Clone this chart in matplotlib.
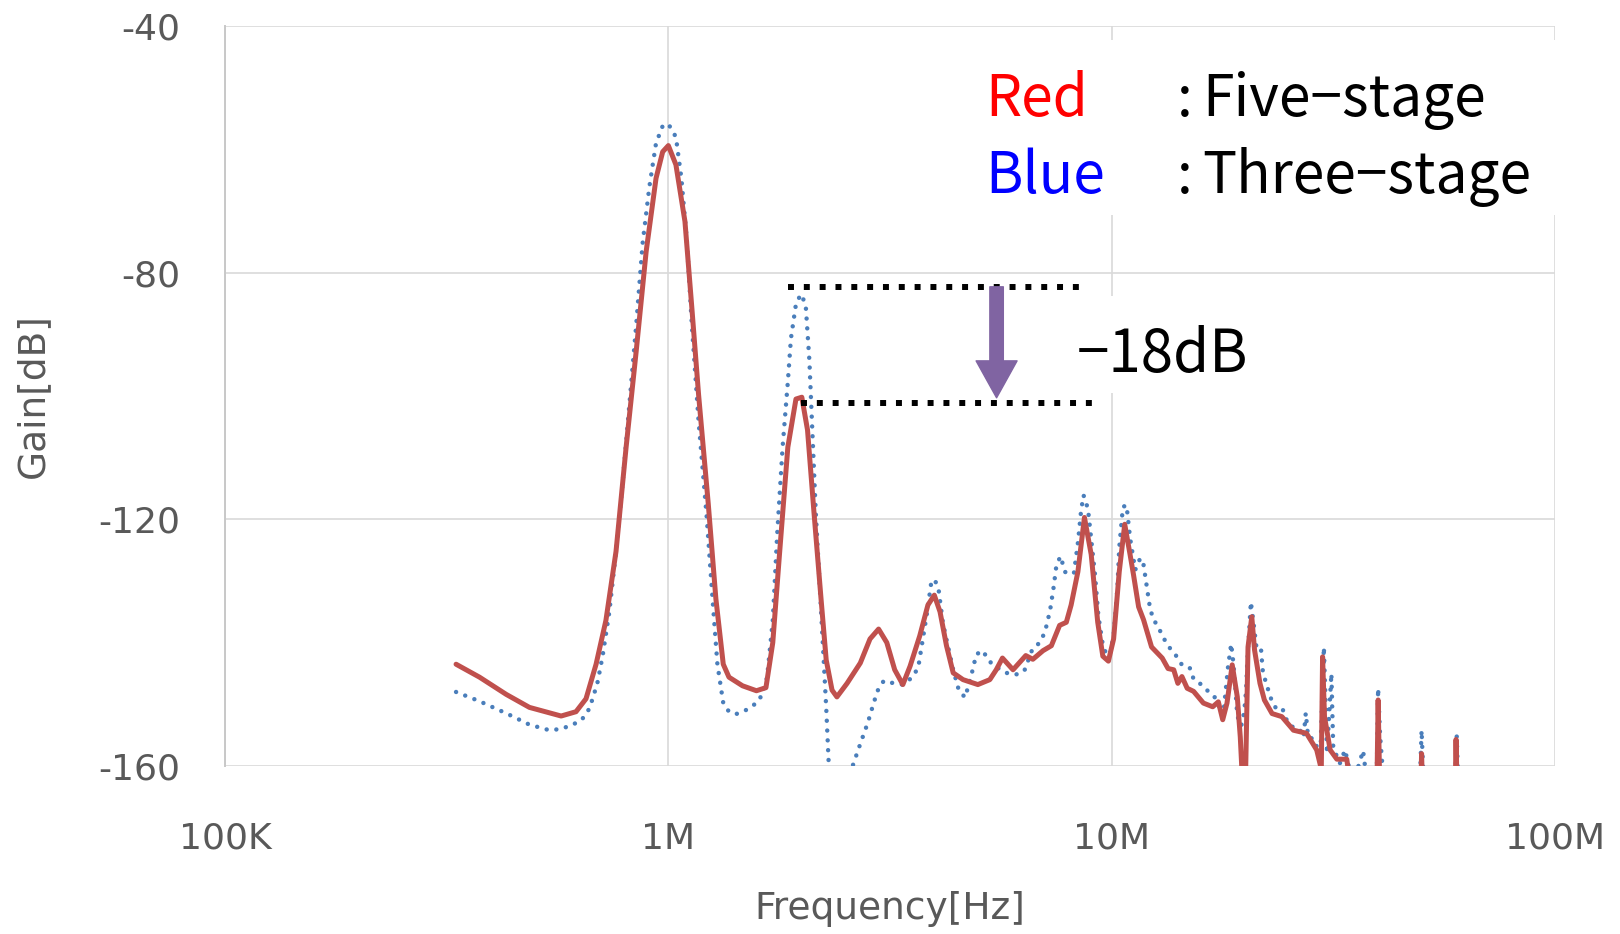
import matplotlib
matplotlib.use("Agg")
import matplotlib.pyplot as plt
from matplotlib.patches import Rectangle

plt.rcParams["axes.unicode_minus"] = False

# measured gain, five-stage filter (red)
freq_red = [
    332e3, 375e3, 431e3, 486e3, 573e3, 619e3, 652e3, 687e3, 723e3, 762e3,
    803e3, 846e3, 891e3, 938e3, 971e3, 1.0e6, 1.04e6, 1.09e6, 1.13e6, 1.17e6,
    1.23e6, 1.28e6, 1.33e6, 1.37e6, 1.47e6, 1.58e6, 1.66e6, 1.72e6, 1.78e6, 1.86e6,
    1.94e6, 2.0e6, 2.06e6, 2.13e6, 2.21e6, 2.27e6, 2.34e6, 2.40e6, 2.53e6, 2.71e6,
    2.85e6, 2.98e6, 3.11e6, 3.24e6, 3.38e6, 3.51e6, 3.69e6, 3.85e6, 3.98e6, 4.10e6,
    4.24e6, 4.39e6, 4.62e6, 4.99e6, 5.31e6, 5.49e6, 5.67e6, 5.99e6, 6.40e6, 6.64e6,
    7.00e6, 7.31e6, 7.63e6, 7.90e6, 8.10e6, 8.39e6, 8.68e6, 8.99e6, 9.30e6, 9.55e6,
    9.83e6, 10.1e6, 10.4e6, 10.7e6, 11.0e6, 11.2e6, 11.5e6, 11.8e6, 12.3e6, 13.0e6,
    13.4e6, 13.8e6, 14.1e6, 14.4e6, 14.8e6, 15.3e6, 16.1e6, 16.9e6, 17.4e6, 17.8e6,
    18.2e6, 18.7e6, 19.2e6, 19.5e6, 19.8e6, 20.0e6, 20.3e6, 20.7e6, 21.0e6, 21.6e6,
    22.1e6, 23.0e6, 24.2e6, 25.7e6, 27.5e6, 29.0e6, 29.7e6, 29.9e6, 30.2e6, 31.1e6,
    32.2e6, 33.9e6, 35.0e6, 39.6e6, 39.9e6, 40.3e6, 45.0e6, 49.8e6, 50.0e6, 50.3e6,
    55.0e6, 59.5e6, 59.8e6, 60.2e6, 61.0e6,
]
gain_red = [
    -143.5, -145.6, -148.4, -150.5, -151.9, -151.2, -149.1, -143.5, -136.4, -125.2,
    -108.3, -92.8, -76.6, -64.7, -60.4, -59.4, -62.5, -71.7, -85.8, -99.8,
    -117.4, -132.9, -143.5, -145.6, -147.0, -147.8, -147.3, -140.0, -125.9, -108.3,
    -100.5, -100.2, -105.5, -118.8, -132.9, -142.8, -147.7, -148.8, -146.6, -143.3,
    -139.4, -137.8, -140.0, -144.4, -146.8, -143.8, -138.9, -133.9, -132.3, -135.0,
    -140.5, -144.9, -146.0, -146.8, -146.0, -144.4, -142.5, -144.4, -142.1, -142.7,
    -141.3, -140.5, -137.2, -136.7, -133.9, -128.5, -119.7, -125.7, -136.7, -142.2,
    -143.0, -139.4, -128.5, -120.8, -125.7, -129.0, -134.2, -136.3, -140.7, -142.5,
    -144.2, -144.4, -146.6, -145.5, -147.4, -147.9, -149.8, -150.4, -149.6, -152.5,
    -149.8, -143.6, -148.8, -155.3, -165.0, -165.0, -140.7, -135.8, -141.2, -146.6,
    -149.3, -151.5, -152.0, -154.2, -154.7, -157.4, -160.5, -142.3, -152.0, -157.4,
    -158.9, -158.9, -166.0, -166.0, -149.3, -166.0, -170.0, -164.0, -158.0, -165.0,
    -170.0, -165.0, -155.7, -165.0, -170.0,
]

# measured gain, three-stage filter (blue)
freq_blue = [
    332e3, 375e3, 435e3, 486e3, 539e3, 573e3, 608e3, 636e3, 658e3, 675e3,
    693e3, 711e3, 736e3, 762e3, 789e3, 817e3, 846e3, 875e3, 906e3, 938e3,
    971e3, 1.0e6, 1.04e6, 1.07e6, 1.10e6, 1.13e6, 1.17e6, 1.22e6, 1.26e6, 1.29e6,
    1.33e6, 1.37e6, 1.42e6, 1.50e6, 1.58e6, 1.63e6, 1.67e6, 1.72e6, 1.76e6, 1.81e6,
    1.86e6, 1.89e6, 1.94e6, 1.99e6, 2.04e6, 2.08e6, 2.11e6, 2.15e6, 2.19e6, 2.23e6,
    2.27e6, 2.30e6, 2.45e6, 2.61e6, 2.71e6, 2.82e6, 2.91e6, 2.97e6, 3.06e6, 3.23e6,
    3.38e6, 3.54e6, 3.66e6, 3.83e6, 3.92e6, 3.99e6, 4.07e6, 4.16e6, 4.27e6, 4.39e6,
    4.52e6, 4.67e6, 4.82e6, 4.95e6, 5.12e6, 5.29e6, 5.53e6, 5.78e6, 6.07e6, 6.35e6,
    6.62e6, 6.88e6, 7.07e6, 7.26e6, 7.39e6, 7.50e6, 7.66e6, 7.87e6, 8.22e6, 8.40e6,
    8.53e6, 8.64e6, 8.84e6, 9.00e6, 9.17e6, 9.33e6, 9.54e6, 9.84e6, 10.1e6, 10.3e6,
    10.4e6, 10.6e6, 10.8e6, 11.0e6, 11.3e6, 11.6e6, 11.8e6, 12.0e6, 12.2e6, 12.4e6,
    12.8e6, 13.1e6, 13.5e6, 14.0e6, 14.4e6, 15.0e6, 15.3e6, 15.8e6, 16.4e6, 17.1e6,
    17.5e6, 17.9e6, 18.2e6, 18.3e6, 18.6e6, 18.8e6, 19.0e6, 19.2e6, 19.6e6, 19.9e6,
    20.1e6, 20.2e6, 20.4e6, 20.6e6, 20.9e6, 21.2e6, 21.7e6, 21.9e6, 22.2e6, 22.6e6,
    23.0e6, 23.6e6, 24.3e6, 24.8e6, 25.4e6, 26.4e6, 27.1e6, 27.4e6, 27.7e6, 28.0e6,
    28.7e6, 29.6e6, 30.1e6, 30.6e6, 31.3e6, 31.6e6, 32.7e6, 33.6e6, 35.0e6, 36.9e6,
    38.0e6, 39.6e6, 39.9e6, 40.3e6, 40.8e6, 42.0e6, 46.0e6, 49.6e6, 50.0e6, 50.5e6,
    55.0e6, 59.5e6, 60.0e6, 60.5e6, 65.0e6, 69.5e6,
]
gain_blue = [
    -148.0, -149.5, -151.6, -153.3, -154.2, -154.0, -153.3, -152.6, -151.2, -149.1,
    -146.3, -142.1, -135.0, -125.2, -113.9, -101.3, -88.6, -75.2, -66.1, -59.0,
    -56.2, -55.9, -58.0, -64.7, -74.5, -88.6, -104.1, -119.5, -133.6, -143.5,
    -149.8, -151.2, -151.6, -150.9, -149.8, -148.4, -145.6, -136.4, -122.4, -108.3,
    -97.7, -90.7, -85.1, -83.5, -85.1, -94.2, -104.8, -118.8, -129.4, -140.0,
    -150.5, -159.7, -172.0, -159.8, -156.4, -152.9, -149.6, -147.7, -146.2, -146.6,
    -146.8, -145.7, -144.1, -135.3, -130.1, -129.8, -131.4, -136.7, -140.5, -144.4,
    -147.7, -148.9, -145.4, -141.9, -141.3, -143.0, -144.1, -144.9, -145.2, -144.6,
    -141.1, -140.0, -138.3, -134.8, -131.2, -127.6, -126.0, -128.7, -128.7, -123.5,
    -118.6, -116.1, -118.3, -123.5, -129.0, -135.6, -140.2, -143.0, -138.9, -131.2,
    -124.6, -118.0, -117.7, -123.0, -128.2, -126.3, -127.4, -130.9, -134.4, -136.1,
    -137.8, -139.3, -140.8, -142.2, -143.6, -144.1, -145.9, -146.6, -147.7, -148.9,
    -150.5, -150.9, -145.6, -143.9, -140.2, -143.1, -147.1, -151.9, -153.5, -151.3,
    -147.7, -143.9, -138.5, -133.4, -136.9, -140.7, -140.7, -144.4, -146.1, -147.9,
    -149.6, -150.9, -150.8, -152.5, -153.6, -153.8, -155.3, -151.4, -154.9, -154.9,
    -156.7, -156.9, -140.7, -158.0, -145.0, -157.0, -159.6, -157.4, -163.0, -157.5,
    -165.0, -162.0, -147.4, -155.0, -160.0, -168.0, -168.0, -162.0, -154.2, -162.0,
    -168.0, -163.0, -155.0, -163.0, -168.0, -159.8,
]

x_ticks = [1e5, 1e6, 1e7, 1e8]
x_labels = ["100K", "1M", "10M", "100M"]
y_ticks = [-40, -80, -120, -160]

# peak levels of the 2 MHz harmonic
peak_three = -82.3
peak_five = -101.1
span_three = [1.86e6, 8.71e6]
span_five = [1.99e6, 9.18e6]
arrow_f = 5.5e6

gray = "#595959"
cjk = ["Noto Sans CJK JP", "DejaVu Sans"]

fig = plt.figure(figsize=(16.2, 9.34), dpi=100)
ax = fig.add_axes([0.1389, 0.1799, 0.8210, 0.7923])

ax.plot(freq_blue, gain_blue, color="#4A7EBB", lw=3.2,
        linestyle=(0, (0.01, 2.2)), dash_capstyle="round", zorder=3)
ax.plot(freq_red, gain_red, color="#C0504D", lw=3.6,
        solid_capstyle="round", solid_joinstyle="round", zorder=4)

ax.set_xscale("log")
ax.set_xlim(1e5, 1e8)
ax.set_ylim(-160, -40)
ax.set_xticks(x_ticks)
ax.set_xticklabels(x_labels)
ax.xaxis.set_minor_locator(plt.NullLocator())
ax.set_yticks(y_ticks)
ax.tick_params(length=0, labelsize=26, colors=gray)
ax.tick_params(axis="x", pad=40)
ax.tick_params(axis="y", pad=32)

ax.set_axisbelow(True)
ax.grid(True, color="#D9D9D9", lw=1.2)
for s in ["top", "right", "bottom"]:
    ax.spines[s].set_visible(False)
ax.spines["left"].set_color("#C8C8C8")
ax.spines["left"].set_linewidth(1.4)

ax.set_xlabel("Frequency[Hz]", fontsize=27, color=gray)
ax.xaxis.set_label_coords(0.5, -0.193)
ax.xaxis.label.set_va("center")
ax.set_ylabel("Gain[dB]", fontsize=27, color=gray)
ax.yaxis.set_label_coords(-0.144, 0.5)
ax.yaxis.label.set_va("center")

# white boxes behind the texts
ax.add_patch(Rectangle((0.53, 0.745), 0.48, 0.236, transform=ax.transAxes,
                       facecolor="white", edgecolor="none", zorder=1.8, clip_on=False))
ax.add_patch(Rectangle((0.628, 0.504), 0.15, 0.131, transform=ax.transAxes,
                       facecolor="white", edgecolor="none", zorder=1.8))

# -18 dB annotation
ax.plot(span_three, [peak_three, peak_three], color="black", lw=4.3,
        linestyle=":", dash_capstyle="butt", zorder=5)
ax.plot(span_five, [peak_five, peak_five], color="black", lw=4.3,
        linestyle=":", dash_capstyle="butt", zorder=5)
ax.annotate("", xy=(arrow_f, peak_five + 0.8), xytext=(arrow_f, peak_three),
            arrowprops=dict(arrowstyle="simple,head_width=2.95,head_length=2.66,tail_width=0.97",
                            color="#8064A2", shrinkA=0, shrinkB=0, mutation_scale=10),
            zorder=6)
ax.text(8.36e6, -96.1, "−18dB", fontsize=42, family=cjk, color="black",
        va="baseline", ha="left", zorder=6)

# colour key
row1, row2 = 0.878, 0.774
ax.text(0.5714, row1, "Red", transform=ax.transAxes, fontsize=41, family=cjk,
        color="#FF0000", va="baseline", zorder=6)
ax.text(0.5714, row2, "Blue", transform=ax.transAxes, fontsize=41, family=cjk,
        color="#0000FF", va="baseline", zorder=6)
ax.text(0.7158, row1, ":", transform=ax.transAxes, fontsize=41, family=cjk,
        color="black", va="baseline", zorder=6)
ax.text(0.7158, row2, ":", transform=ax.transAxes, fontsize=41, family=cjk,
        color="black", va="baseline", zorder=6)
ax.text(0.7346, row1, "Five−stage", transform=ax.transAxes, fontsize=41, family=cjk,
        color="black", va="baseline", zorder=6)
ax.text(0.7346, row2, "Three−stage", transform=ax.transAxes, fontsize=41, family=cjk,
        color="black", va="baseline", zorder=6)

fig.savefig("out.png", dpi=100)
